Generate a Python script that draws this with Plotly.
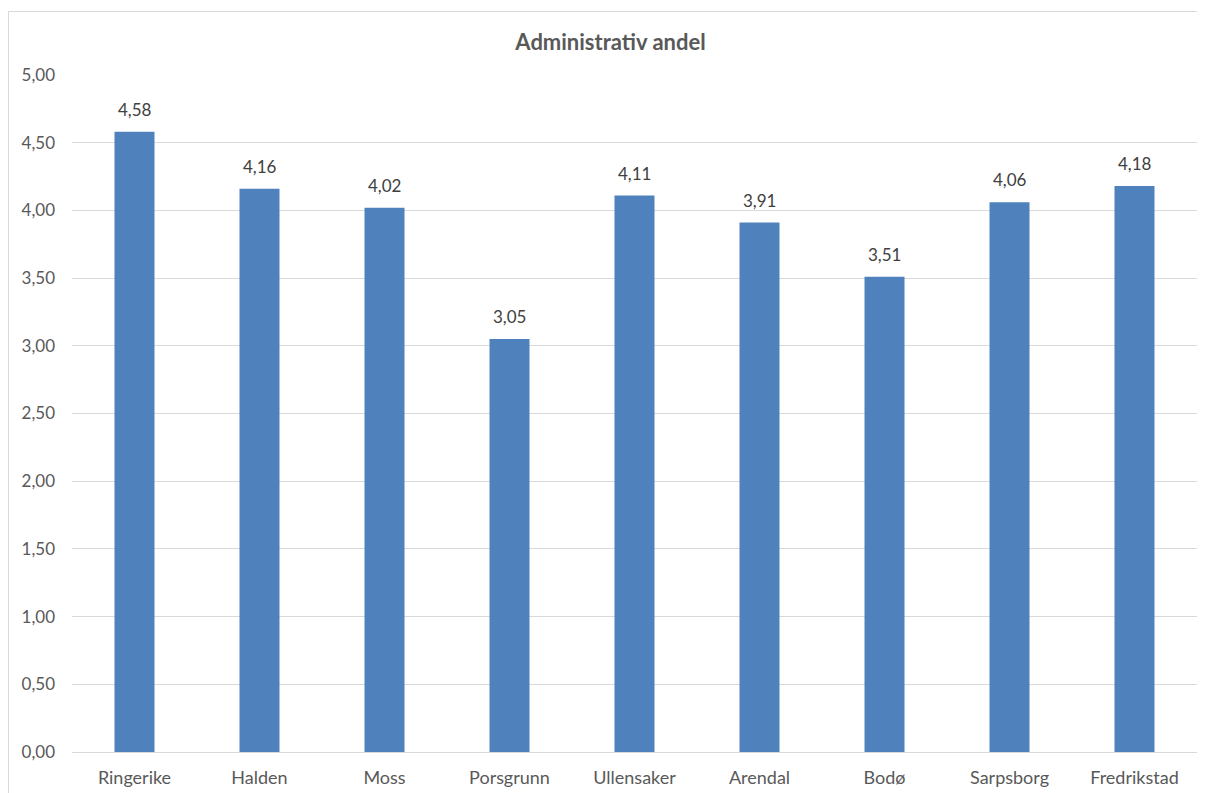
import plotly.graph_objects as go

kommuner = ['Ringerike', 'Halden', 'Moss', 'Porsgrunn', 'Ullensaker',
            'Arendal', 'Bodø', 'Sarpsborg', 'Fredrikstad']
andel = [4.58, 4.16, 4.02, 3.05, 4.11, 3.91, 3.51, 4.06, 4.18]

grey = '#595959'
font_name = 'Lato'

# plot area in figure pixels (page body adds 8px offset)
L, T, W, H = 64, 67, 1125, 677

fig = go.Figure()
fig.add_trace(go.Bar(
    x=kommuner,
    y=andel,
    marker=dict(color='#4f81bd', line=dict(width=0)),
    hoverinfo='x+y',
))

# value labels above bars
for k, v in zip(kommuner, andel):
    fig.add_annotation(x=k, y=v, text=f'{v:.2f}'.replace('.', ','),
                       showarrow=False, yanchor='bottom', yshift=10,
                       font=dict(size=17, color='#404040', family=font_name))

fig.update_layout(
    width=1205, height=793,
    margin=dict(l=L, r=1205 - L - W, t=T, b=793 - T - H),
    paper_bgcolor='white', plot_bgcolor='white',
    separators=',.',
    bargap=0.68,
    showlegend=False,
    title=dict(text='<b>Administrativ andel</b>', x=0.5, xanchor='center',
               y=1 - 34 / 793, yanchor='middle',
               font=dict(size=22, color=grey, family=font_name)),
    font=dict(family=font_name, color=grey, size=17),
    xaxis=dict(showgrid=False, showline=False, ticks='', ticklabelstandoff=13,
               tickfont=dict(size=18, color=grey)),
    yaxis=dict(range=[0, 5], dtick=0.5, tickformat='.2f',
               showgrid=True, gridcolor='#d9d9d9', gridwidth=1,
               zeroline=True, zerolinecolor='#d9d9d9', zerolinewidth=1,
               showline=False, ticks='', ticklabelstandoff=16,
               tickfont=dict(size=17, color=grey)),
)

# chart border, as in the spreadsheet export
fig.add_shape(type='rect', xref='paper', yref='paper',
              x0=(0.5 - L) / W, x1=(1205 + 20 - L) / W,
              y0=-0.2, y1=(T + H - 3.5) / H,
              line=dict(color='#d9d9d9', width=1), layer='below')

fig.write_html('out.html')
